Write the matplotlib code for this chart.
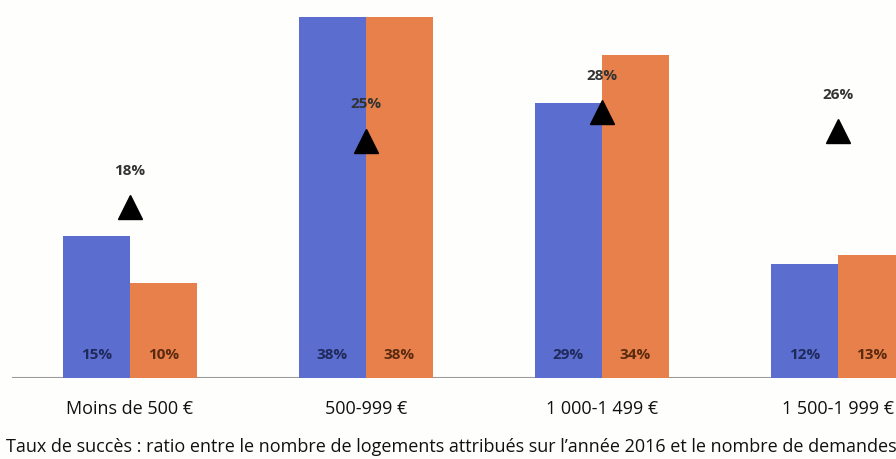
import matplotlib
matplotlib.use("Agg")
import matplotlib.pyplot as plt
import numpy as np

plt.rcParams['font.family'] = ['Open Sans', 'DejaVu Sans']

categories = ["Moins de 500 €", "500-999 €", "1 000-1 499 €", "1 500-1 999 €"]
series_a = [15, 38, 29, 12]   # blue bars
series_b = [10, 38, 34, 13]   # orange bars
success_rate = [18, 25, 28, 26]  # triangles
caption = ("Taux de succès : ratio entre le nombre de logements attribués sur "
           "l’année 2016 et le nombre de demandes")

blue = "#5b6dcf"
orange = "#e7804a"

fig = plt.figure(figsize=(8.96, 4.59), dpi=100, facecolor="#fefefc")
ax = fig.add_axes([12/896, 81/459, 884/896, 378/459])
ax.set_facecolor("#fefefc")

x = np.arange(len(categories))
w = 0.284
ax.bar(x - w/2, series_a, width=w, color=blue, zorder=2)
ax.bar(x + w/2, series_b, width=w, color=orange, zorder=2)

for xi, a, b in zip(x, series_a, series_b):
    ax.text(xi - w/2, 2.4, f"{a}%", ha="center", va="center", fontsize=11,
            fontweight="bold", color="#1f2a5a", zorder=3)
    ax.text(xi + w/2, 2.4, f"{b}%", ha="center", va="center", fontsize=11,
            fontweight="bold", color="#5a2a10", zorder=3)

ax.plot(x, success_rate, linestyle="none", marker="^", markersize=17,
        color="black", zorder=4)
for xi, r in zip(x, success_rate):
    ax.text(xi, r + 3.8, f"{r}%", ha="center", va="center", fontsize=11,
            fontweight="bold", color="#333333", zorder=4)

ax.set_xlim(-0.5, 3.246)
ax.set_ylim(0, 39.8)
for s in ax.spines.values():
    s.set_visible(False)
ax.axhline(0, color="#9a9a9a", linewidth=1.5, zorder=1)
ax.set_yticks([])
ax.set_xticks(x)
ax.set_xticklabels(categories, fontsize=13, color="#111111")
ax.tick_params(axis="x", length=0, pad=16)

fig.text(6/896, 1 - 447/459, caption, ha="left", va="center",
         fontsize=13, color="#111111")

fig.savefig("out.png", dpi=100, facecolor=fig.get_facecolor())
